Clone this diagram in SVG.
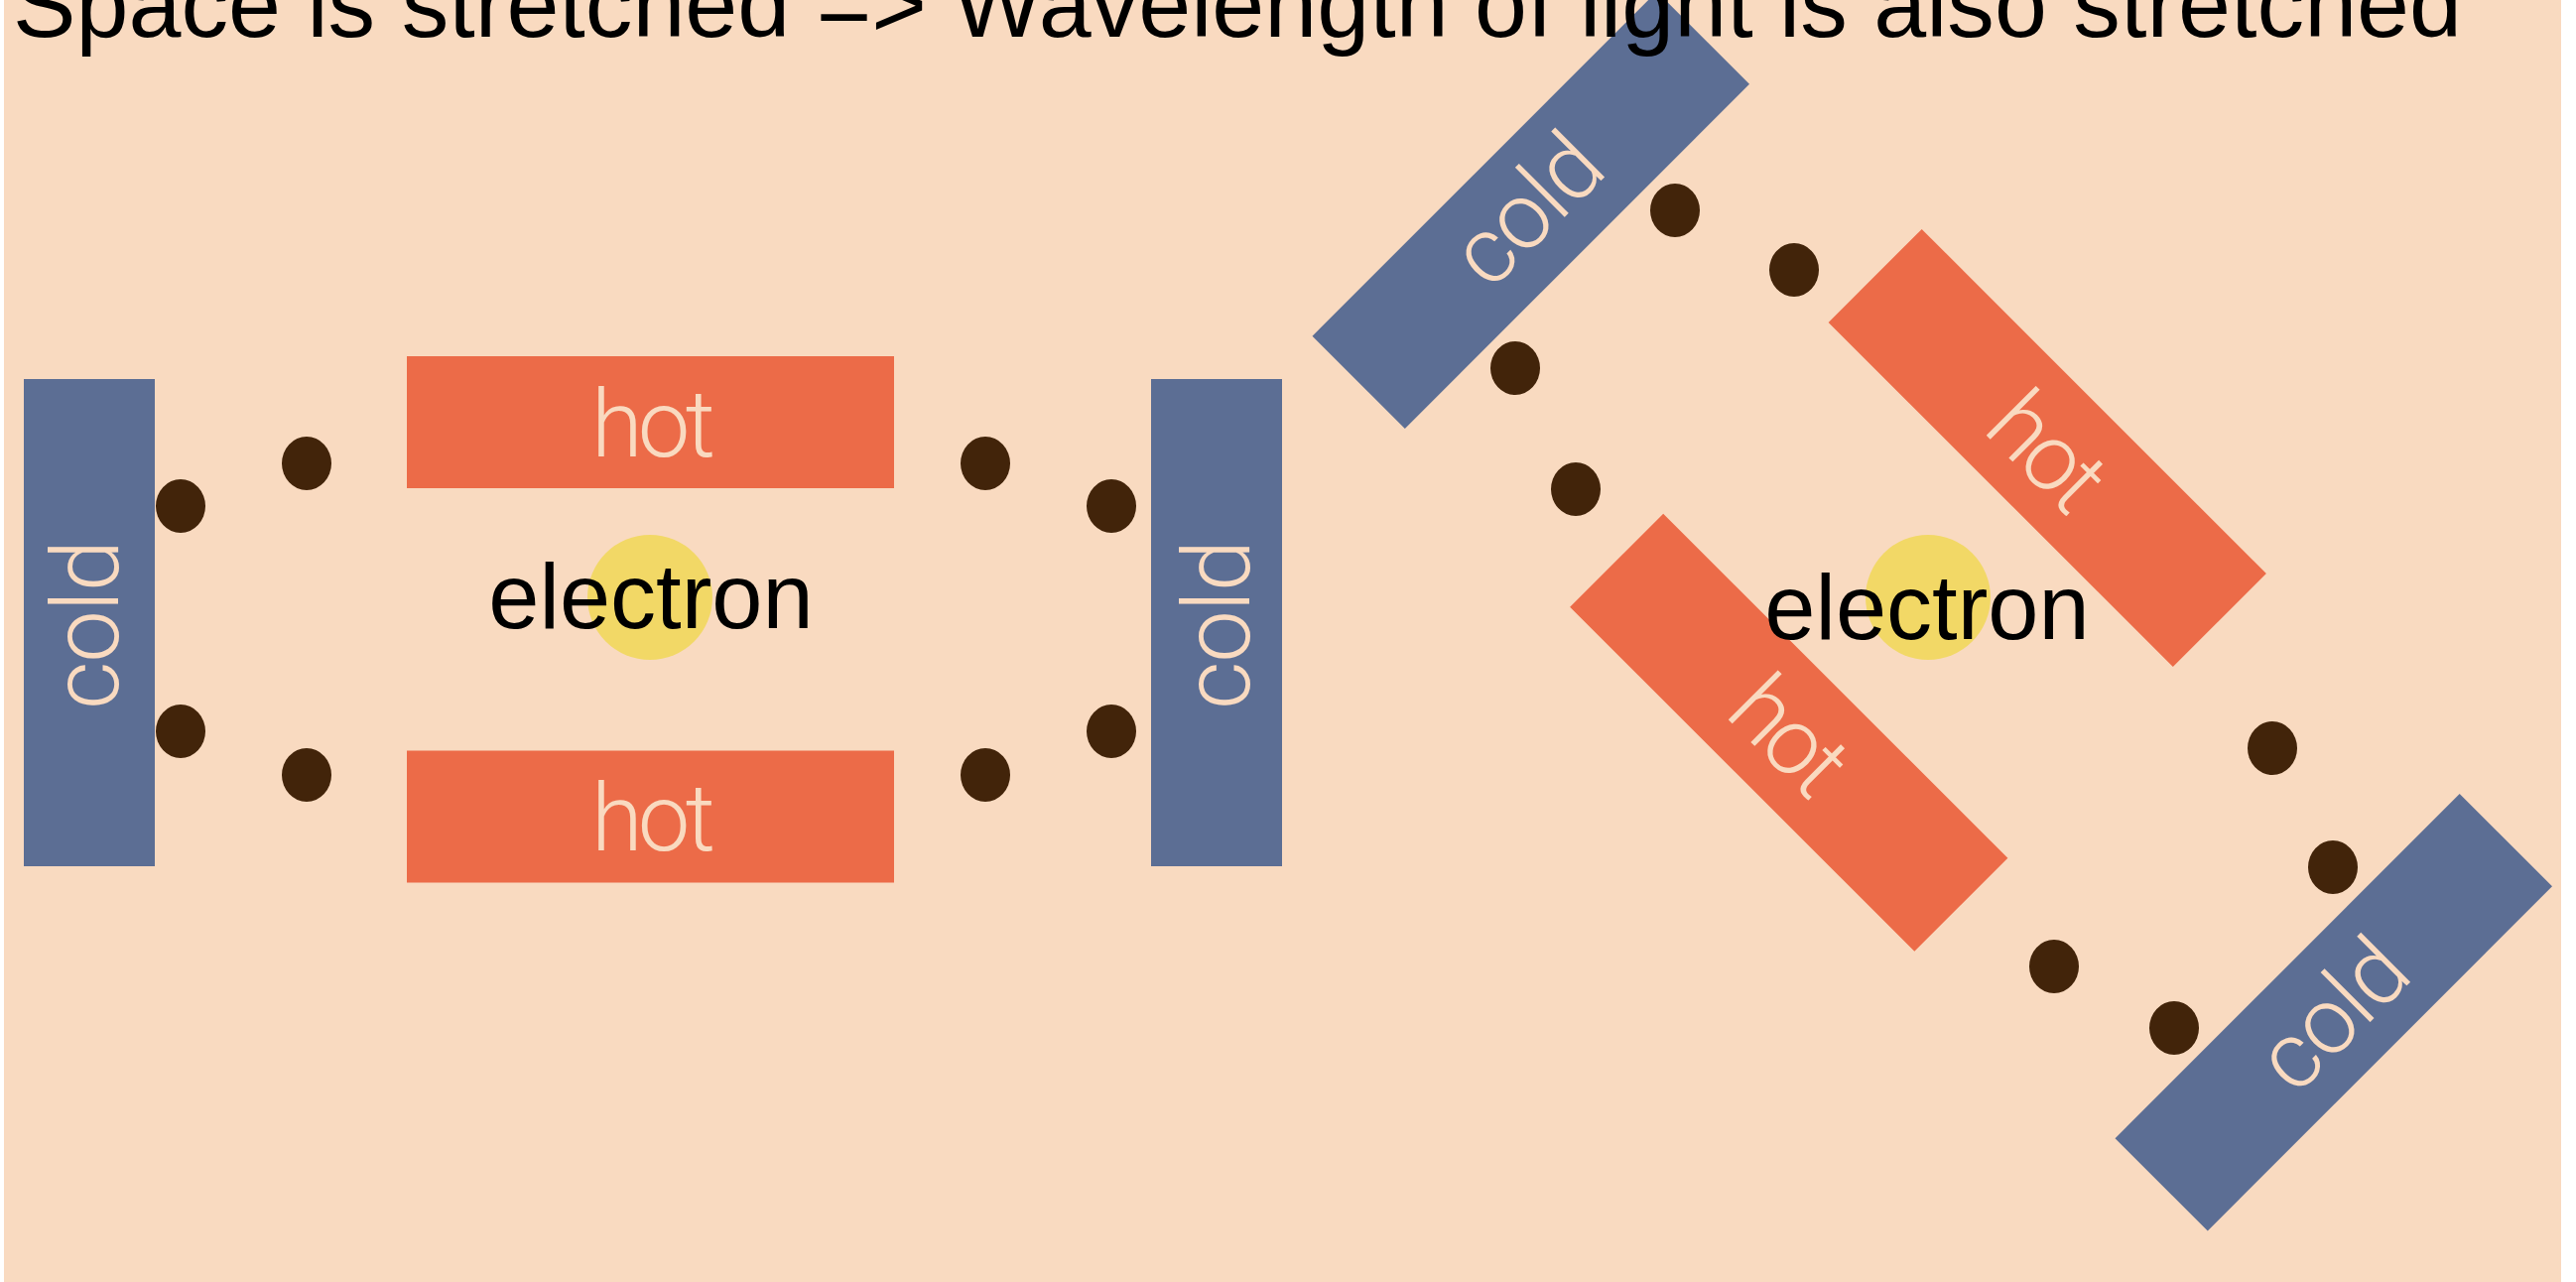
<svg xmlns="http://www.w3.org/2000/svg" width="2596" height="1292" viewBox="0 0 2596 1292">
  <style>
    .bg { fill: #f9dac0; }
    .cold { fill: #5c6e94; }
    .hot { fill: #ec6b48; }
    .core { fill: #f2d866; }
    .dot { fill: #42240a; }
    .lbl { font-family: Roboto, "Liberation Sans", sans-serif; font-weight: 300; font-size: 94px; fill: #f9dac0; text-anchor: middle; }
    .name { font-family: "Liberation Sans", Arial, sans-serif; font-size: 92px; fill: #000; text-anchor: middle; }
    .title { font-family: "Liberation Sans", Arial, sans-serif; font-size: 95px; fill: #000; }
  </style>
  <defs>
    <ellipse id="particle" class="dot" cx="0" cy="0" rx="25" ry="27"/>
    <!-- plate shapes, centred on the origin -->
    <rect id="coldPlate" class="cold" x="-66" y="-245.5" width="132" height="491"/>
    <rect id="hotPlate" class="hot" x="-245.5" y="-66.5" width="491" height="133"/>
  </defs>

  <rect x="0" y="0" width="2596" height="1292" fill="#ffffff"/>
  <rect class="bg" x="4" y="0" width="2577" height="1292"/>

  <!-- unstretched space -->
  <g id="cold-left" transform="translate(90,627.5)">
    <use href="#coldPlate"/>
    <text class="lbl" transform="translate(29,2) rotate(-90)" textLength="171" lengthAdjust="spacing">cold</text>
  </g>
  <g id="cold-right" transform="translate(1226,627.5)">
    <use href="#coldPlate"/>
    <text class="lbl" transform="translate(33,2) rotate(-90)" textLength="171" lengthAdjust="spacing">cold</text>
  </g>
  <g id="hot-top" transform="translate(655.5,425.5)">
    <use href="#hotPlate"/>
    <text class="lbl" x="3" y="34.5" textLength="125" lengthAdjust="spacing">hot</text>
  </g>
  <g id="hot-bottom" transform="translate(655.5,823)">
    <use href="#hotPlate"/>
    <text class="lbl" x="3" y="34" textLength="125" lengthAdjust="spacing">hot</text>
  </g>
  <g id="electron-left">
    <circle class="core" cx="655" cy="602" r="63"/>
    <text class="name" x="656" y="633">electron</text>
  </g>

  <!-- stretched space: same layout turned by 45 degrees -->
  <g id="cold-upper" transform="translate(1542.75,211.75) rotate(45)">
    <use href="#coldPlate"/>
    <text class="lbl" transform="translate(29,2) rotate(-90)" textLength="171" lengthAdjust="spacing">cold</text>
  </g>
  <g id="cold-lower" transform="translate(2351.75,1020.25) rotate(45)">
    <use href="#coldPlate"/>
    <text class="lbl" transform="translate(33,2) rotate(-90)" textLength="171" lengthAdjust="spacing">cold</text>
  </g>
  <g id="hot-upper" transform="translate(2063.25,451.5) rotate(45)">
    <use href="#hotPlate"/>
    <text class="lbl" x="3" y="34.5" textLength="125" lengthAdjust="spacing">hot</text>
  </g>
  <g id="hot-lower" transform="translate(1802.75,738.25) rotate(45)">
    <use href="#hotPlate"/>
    <text class="lbl" x="3" y="34" textLength="125" lengthAdjust="spacing">hot</text>
  </g>
  <g id="electron-right">
    <circle class="core" cx="1943" cy="602" r="63"/>
    <text class="name" x="1942" y="644">electron</text>
  </g>

  <!-- field particles -->
  <g id="particles">
    <use href="#particle" x="182" y="510"/>
    <use href="#particle" x="309" y="467"/>
    <use href="#particle" x="993" y="467"/>
    <use href="#particle" x="1120" y="510"/>
    <use href="#particle" x="182" y="737"/>
    <use href="#particle" x="309" y="781"/>
    <use href="#particle" x="993" y="781"/>
    <use href="#particle" x="1120" y="737"/>

    <use href="#particle" x="1688" y="212"/>
    <use href="#particle" x="1808" y="272"/>
    <use href="#particle" x="1527" y="371"/>
    <use href="#particle" x="1588" y="493"/>
    <use href="#particle" x="2290" y="754"/>
    <use href="#particle" x="2351" y="874"/>
    <use href="#particle" x="2070" y="974"/>
    <use href="#particle" x="2191" y="1036"/>
  </g>

  <text id="title" class="title" x="13" y="37" textLength="2468" lengthAdjust="spacingAndGlyphs">Space is stretched =&gt; Wavelength of light is also stretched</text>
</svg>
